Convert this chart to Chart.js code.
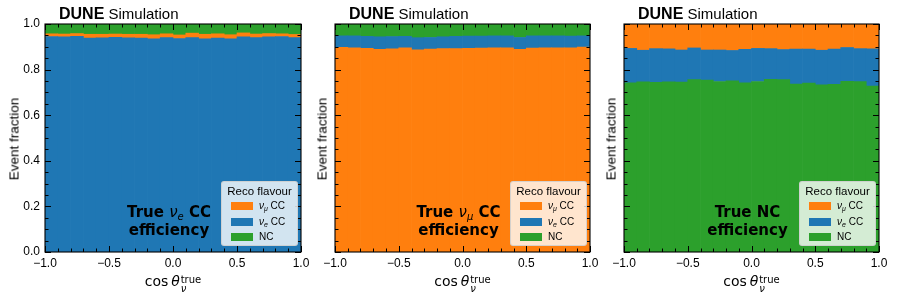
<!DOCTYPE html>
<html>
<head>
<meta charset="utf-8">
<script src="https://cdn.jsdelivr.net/npm/chart.js@4.4.1/dist/chart.umd.min.js"></script>
<style>
  body { margin: 0; background: #fff; width: 897px; height: 299px; overflow: hidden; position: relative; }
  canvas { position: absolute; top: 0; }
  .txt { position: absolute; color: #000; white-space: nowrap; }
  .dune { font-family: "Liberation Sans", Arial, sans-serif; font-size: 15px; line-height: 16px; top: 6px; }
  .dune b { font-size: 16px; }
  .ylab { font-family: "Liberation Sans", Arial, sans-serif; font-size: 13.5px; line-height: 15px; transform: translate(-50%, -50%) rotate(-90deg); top: 139px; }
  .xlab { font-family: "DejaVu Sans", sans-serif; font-size: 14px; line-height: 16px; top: 273px; transform: translateX(-50%); }
  .xlab .ss { display: inline-block; vertical-align: -6px; line-height: 9px; font-size: 10px; margin-left: 1px; }
  .note { font-family: "DejaVu Sans", sans-serif; font-weight: bold; font-size: 15px; line-height: 18px; text-align: center; top: 203px; transform: translateX(-50%); }
  .note i { font-weight: normal; }
  .note sub { font-size: 10px; font-weight: normal; font-style: italic; vertical-align: -3px; line-height: 0; }
  .leg { position: absolute; top: 181px; width: 77px; height: 65px; box-sizing: border-box; background: rgba(255,255,255,0.8);
         border: 1px solid rgba(204,204,204,0.8); border-radius: 3px; font-family: "Liberation Sans", Arial, sans-serif; }
  .leg .lt { text-align: center; font-size: 11.5px; line-height: 13px; margin-top: 3px; margin-bottom: 0px; }
  .leg .row { height: 15.5px; position: relative; font-size: 10px; line-height: 15px; }
  .leg .sw { position: absolute; left: 9px; top: 4px; width: 22px; height: 8px; }
  .leg .lb { position: absolute; left: 37px; top: 0; }
  .leg sub { font-size: 7px; vertical-align: -2px; line-height: 0; }
</style>
</head>
<body>
<script>
// bin centres of cos(theta_nu^true), 20 bins from -1 to 1
const binCentres = [-0.95, -0.85, -0.75, -0.65, -0.55, -0.45, -0.35, -0.25, -0.15, -0.05,
                     0.05,  0.15,  0.25,  0.35,  0.45,  0.55,  0.65,  0.75,  0.85,  0.95];

// reco flavour fractions, true nu_e CC
const trueNueCC_recoNue  = [0.945,0.944,0.946,0.938,0.939,0.941,0.939,0.938,0.935,0.940,0.936,0.940,0.935,0.938,0.935,0.944,0.940,0.944,0.945,0.940];
const trueNueCC_recoNumu = [0.012,0.012,0.012,0.017,0.016,0.015,0.016,0.017,0.018,0.017,0.016,0.020,0.020,0.019,0.018,0.017,0.016,0.014,0.012,0.014];
const trueNueCC_recoNC   = [0.043,0.044,0.042,0.045,0.045,0.044,0.045,0.045,0.047,0.043,0.048,0.040,0.045,0.043,0.047,0.039,0.044,0.042,0.043,0.046];

// true nu_mu CC
const trueNumuCC_recoNumu = [0.898,0.895,0.893,0.889,0.891,0.895,0.887,0.890,0.892,0.892,0.893,0.894,0.896,0.895,0.889,0.894,0.895,0.895,0.895,0.899];
const trueNumuCC_recoNue  = [0.050,0.053,0.053,0.055,0.054,0.051,0.053,0.051,0.052,0.054,0.054,0.053,0.052,0.053,0.052,0.054,0.053,0.053,0.052,0.049];
const trueNumuCC_recoNC   = [0.052,0.052,0.054,0.056,0.055,0.054,0.060,0.059,0.056,0.054,0.053,0.053,0.052,0.052,0.059,0.052,0.052,0.052,0.053,0.052];

// true NC
const trueNC_recoNC   = [0.742,0.746,0.744,0.746,0.745,0.756,0.754,0.748,0.751,0.742,0.748,0.757,0.756,0.736,0.741,0.733,0.735,0.749,0.747,0.728];
const trueNC_recoNue  = [0.151,0.139,0.148,0.145,0.141,0.139,0.132,0.138,0.133,0.147,0.145,0.135,0.132,0.154,0.149,0.152,0.155,0.148,0.145,0.163];
const trueNC_recoNumu = [0.107,0.115,0.108,0.109,0.114,0.105,0.114,0.114,0.116,0.111,0.107,0.108,0.112,0.110,0.110,0.115,0.110,0.103,0.108,0.109];

const xMajorTicks = [-1, -0.5, 0, 0.5, 1];
const yMajorTicks = [0, 0.2, 0.4, 0.6, 0.8, 1.0];

const COL_NUMU = "#ff7f0e";
const COL_NUE  = "#1f77b4";
const COL_NC   = "#2ca02c";

const legendItems = [
    { html: "<i>ν</i><sub><i>μ</i></sub> CC", color: COL_NUMU },
    { html: "<i>ν</i><sub><i>e</i></sub> CC", color: COL_NUE },
    { html: "NC", color: COL_NC }
];

// frame + inward major/minor ticks, matplotlib style
const frameTicks = {
    id: "frameTicks",
    afterDatasetsDraw(chart){
        const ctx = chart.ctx, a = chart.chartArea;
        const xs = chart.scales.x, ys = chart.scales.y;
        ctx.save();
        ctx.strokeStyle = "#000";
        ctx.lineWidth = 1;
        ctx.beginPath();
        for(let i = 0; i <= 20; i++){
            let v = -1 + i * 0.1;
            let px = Math.round(xs.getPixelForValue(v)) + 0.5;
            let len = (i % 5 === 0) ? 6 : 3.5;
            ctx.moveTo(px, a.bottom); ctx.lineTo(px, a.bottom - len);
            ctx.moveTo(px, a.top); ctx.lineTo(px, a.top + len);
        }
        for(let i = 0; i <= 20; i++){
            let v = i * 0.05;
            let py = Math.round(ys.getPixelForValue(v)) + 0.5;
            let len = (i % 4 === 0) ? 6 : 3.5;
            ctx.moveTo(a.left, py); ctx.lineTo(a.left + len, py);
            ctx.moveTo(a.right, py); ctx.lineTo(a.right - len, py);
        }
        ctx.stroke();
        ctx.lineWidth = 1.1;
        ctx.strokeRect(a.left, a.top, a.right - a.left, a.bottom - a.top);
        ctx.restore();
    }
};

function _minusFmt(v){
    return (v < 0 ? "\u2212" : "") + Math.abs(v).toFixed(1);
}

function _addText(cls, left, html){
    let d = document.createElement("div");
    d.className = "txt " + cls;
    d.style.left = left + "px";
    d.innerHTML = html;
    document.body.appendChild(d);
    return d;
}

function _drawPanel(panel){
    let cv = document.createElement("canvas");
    cv.width = panel.width; cv.height = 299;
    cv.style.left = panel.left + "px";
    document.body.appendChild(cv);

    let datasets = panel.stack.map(s => ({
        label: s.label,
        data: s.values.map((y, i) => ({ x: binCentres[i], y: y })),
        backgroundColor: s.color,
        borderWidth: 0,
        barPercentage: 1.0,
        categoryPercentage: 1.0
    }));

    let chart = new Chart(cv.getContext("2d"), {
        type: "bar",
        data: { datasets: datasets },
        options: {
            responsive: false,
            animation: false,
            events: [],
            layout: { padding: { top: 24, right: panel.padRight, left: 0, bottom: 0 } },
            plugins: { legend: { display: false }, tooltip: { enabled: false } },
            scales: {
                x: {
                    type: "linear", stacked: true, min: -1, max: 1, offset: false,
                    grid: { display: false, drawTicks: false, offset: false }, border: { display: false },
                    afterBuildTicks: s => { s.ticks = xMajorTicks.map(v => ({ value: v })); },
                    afterFit: s => { s.height = 47; },
                    ticks: { autoSkip: false, maxRotation: 0, padding: 4, color: "#000",
                             font: { family: "Liberation Sans", size: 12 }, callback: v => _minusFmt(v) }
                },
                y: {
                    stacked: true, min: 0, max: 1,
                    grid: { display: false, drawTicks: false }, border: { display: false },
                    afterBuildTicks: s => { s.ticks = yMajorTicks.map(v => ({ value: v })); },
                    afterFit: s => { s.width = panel.axisW; },
                    ticks: { padding: 5, color: "#000",
                             font: { family: "Liberation Sans", size: 12 },
                             callback: v => panel.showY ? v.toFixed(1) : "" }
                }
            }
        },
        plugins: [frameTicks]
    });

    let a = chart.chartArea;
    let cx = panel.left + (a.left + a.right) / 2;

    _addText("dune", panel.left + a.left + 14, "<b>DUNE</b> Simulation");
    _addText("ylab", panel.yLabX, "Event fraction");
    _addText("xlab", cx, "cos&thinsp;<i>θ</i><span class='ss'>true<br><i>ν</i></span>");
    _addText("note", cx - 4, panel.note);

    let leg = document.createElement("div");
    leg.className = "leg";
    leg.style.left = (panel.left + a.right - 3 - 77) + "px";
    let h = "<div class='lt'>Reco flavour</div>";
    legendItems.forEach(it => {
        h += "<div class='row'><span class='sw' style='background:" + it.color + "'></span><span class='lb'>" + it.html + "</span></div>";
    });
    leg.innerHTML = h;
    document.body.appendChild(leg);
}

const panels = [
    { left: 0, width: 314, axisW: 45, padRight: 13, showY: true, yLabX: 14,
      note: "True <i>ν</i><sub>e</sub> CC<br>efficiency",
      stack: [ { label: "νe CC", values: trueNueCC_recoNue, color: COL_NUE },
               { label: "νμ CC", values: trueNueCC_recoNumu, color: COL_NUMU },
               { label: "NC", values: trueNueCC_recoNC, color: COL_NC } ] },
    { left: 310, width: 293, axisW: 25, padRight: 13, showY: false, yLabX: 322,
      note: "True <i>ν</i><sub>μ</sub> CC<br>efficiency",
      stack: [ { label: "νμ CC", values: trueNumuCC_recoNumu, color: COL_NUMU },
               { label: "νe CC", values: trueNumuCC_recoNue, color: COL_NUE },
               { label: "NC", values: trueNumuCC_recoNC, color: COL_NC } ] },
    { left: 600, width: 297, axisW: 24, padRight: 18, showY: false, yLabX: 611,
      note: "True NC<br>efficiency",
      stack: [ { label: "NC", values: trueNC_recoNC, color: COL_NC },
               { label: "νe CC", values: trueNC_recoNue, color: COL_NUE },
               { label: "νμ CC", values: trueNC_recoNumu, color: COL_NUMU } ] }
];

window.onload = function(){
    panels.forEach(p => _drawPanel(p));
};
</script>
</body>
</html>
